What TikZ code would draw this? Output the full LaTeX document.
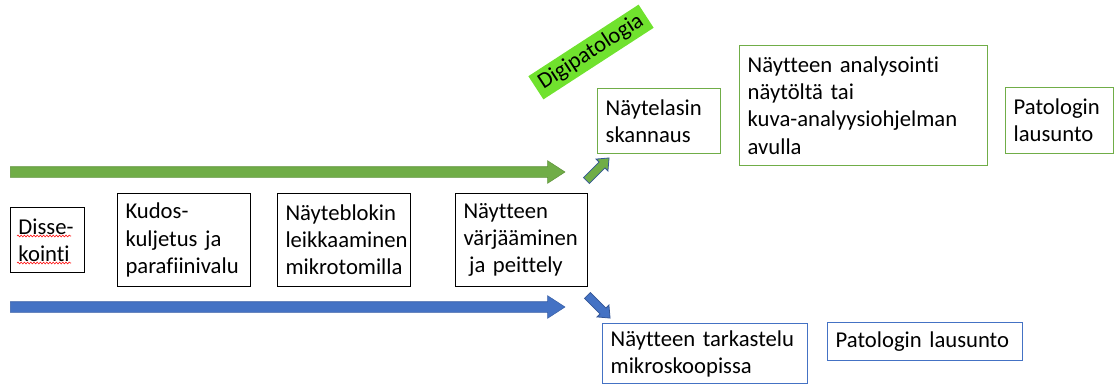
\documentclass[tikz,border=0pt]{standalone}
\usepackage{fontspec}
\setmainfont{Carlito}[Ligatures=NoCommon]
\usetikzlibrary{positioning,shapes.arrows,decorations.pathmorphing}
\definecolor{leafgreen}{RGB}{112,173,71}
\definecolor{officeblue}{RGB}{68,114,196}
\definecolor{limetag}{RGB}{112,226,46}
\definecolor{arrowedge}{RGB}{52,86,150}

\begin{document}
\begin{tikzpicture}[x=0.75pt, y=-0.75pt, every node/.style={font=\fontsize{17}{20.3}\selectfont},
  proc/.style={draw=black,line width=0.75pt,align=left,inner xsep=6pt,inner ysep=5pt,anchor=north west},
  gproc/.style={proc,draw=leafgreen,line width=1pt},
  bproc/.style={proc,draw=officeblue,line width=1pt},
  tag/.style={fill=limetag,inner xsep=4pt,inner ysep=3pt,rotate=33},
  spell/.style={draw=red,line width=0.4pt,decorate,decoration={snake,segment length=2.4pt,amplitude=0.7pt}},
  bigarrow/.style={single arrow,draw=#1!85!black,fill=#1,line width=0.4pt,inner xsep=0pt,inner ysep=3.75pt,
    minimum height=416pt,single arrow head extend=4.5pt,single arrow tip angle=66,anchor=west},
  smallarrow/.style={single arrow,draw=arrowedge,fill=#1,line width=0.6pt,inner xsep=0pt,inner ysep=2.8pt,
    minimum height=24pt,single arrow head extend=3.2pt,single arrow tip angle=80}]
  \useasboundingbox (0,0) rectangle (1114,383);
  % arrows of the two routes
  \node[bigarrow=leafgreen] (digiroute) at (10,172) {};
  \node[bigarrow=officeblue] (glassroute) at (10,307) {};
  \node[smallarrow=leafgreen,rotate=45] (digiturn) at (596,171) {};
  \node[smallarrow=officeblue,rotate=-45] (glassturn) at (597,305) {};
  % common steps
  \node[proc,text width=43.5pt,minimum height=48.75pt] (disse) at (10,207) {Disse-\\kointi};
  \draw[spell] (17,236) -- (71,236);
  \draw[spell] (17,263) -- (71,263);
  \node[proc,text width=87.75pt,minimum height=69.75pt] (kudos) at (117,193) {Kudos-\\kuljetus ja\\parafiinivalu};
  \node[proc,text width=87.75pt,minimum height=69.75pt] (blokki) at (277,193) {Näyteblokin\\leikkaaminen\\mikrotomilla};
  \node[proc,text width=87pt,minimum height=69.75pt] (varjays) at (455,193) {Näytteen\\värjääminen\\\hspace{0.25em}ja peittely};
  % digital route
  \node[tag] (digi) at (591,52) {Digipatologia};
  \node[gproc,text width=80.25pt,minimum height=48.75pt] (skannaus) at (597,88) {Näytelasin\\skannaus};
  \node[gproc,text width=174pt,minimum height=90pt] (analyysi) at (739,45) {Näytteen analysointi\\näytöltä tai\\kuva-analyysiohjelman\\avulla};
  \node[gproc,text width=69pt,minimum height=49.5pt] (lausuntoA) at (1005,87) {Patologin\\lausunto};
  % microscope route
  \node[bproc,text width=141.75pt] (tarkastelu) at (602,323) {Näytteen tarkastelu\\mikroskoopissa};
  \node[bproc,text width=134.25pt,minimum height=28.5pt] (lausuntoB) at (827,322) {Patologin lausunto};
\end{tikzpicture}
\end{document}
